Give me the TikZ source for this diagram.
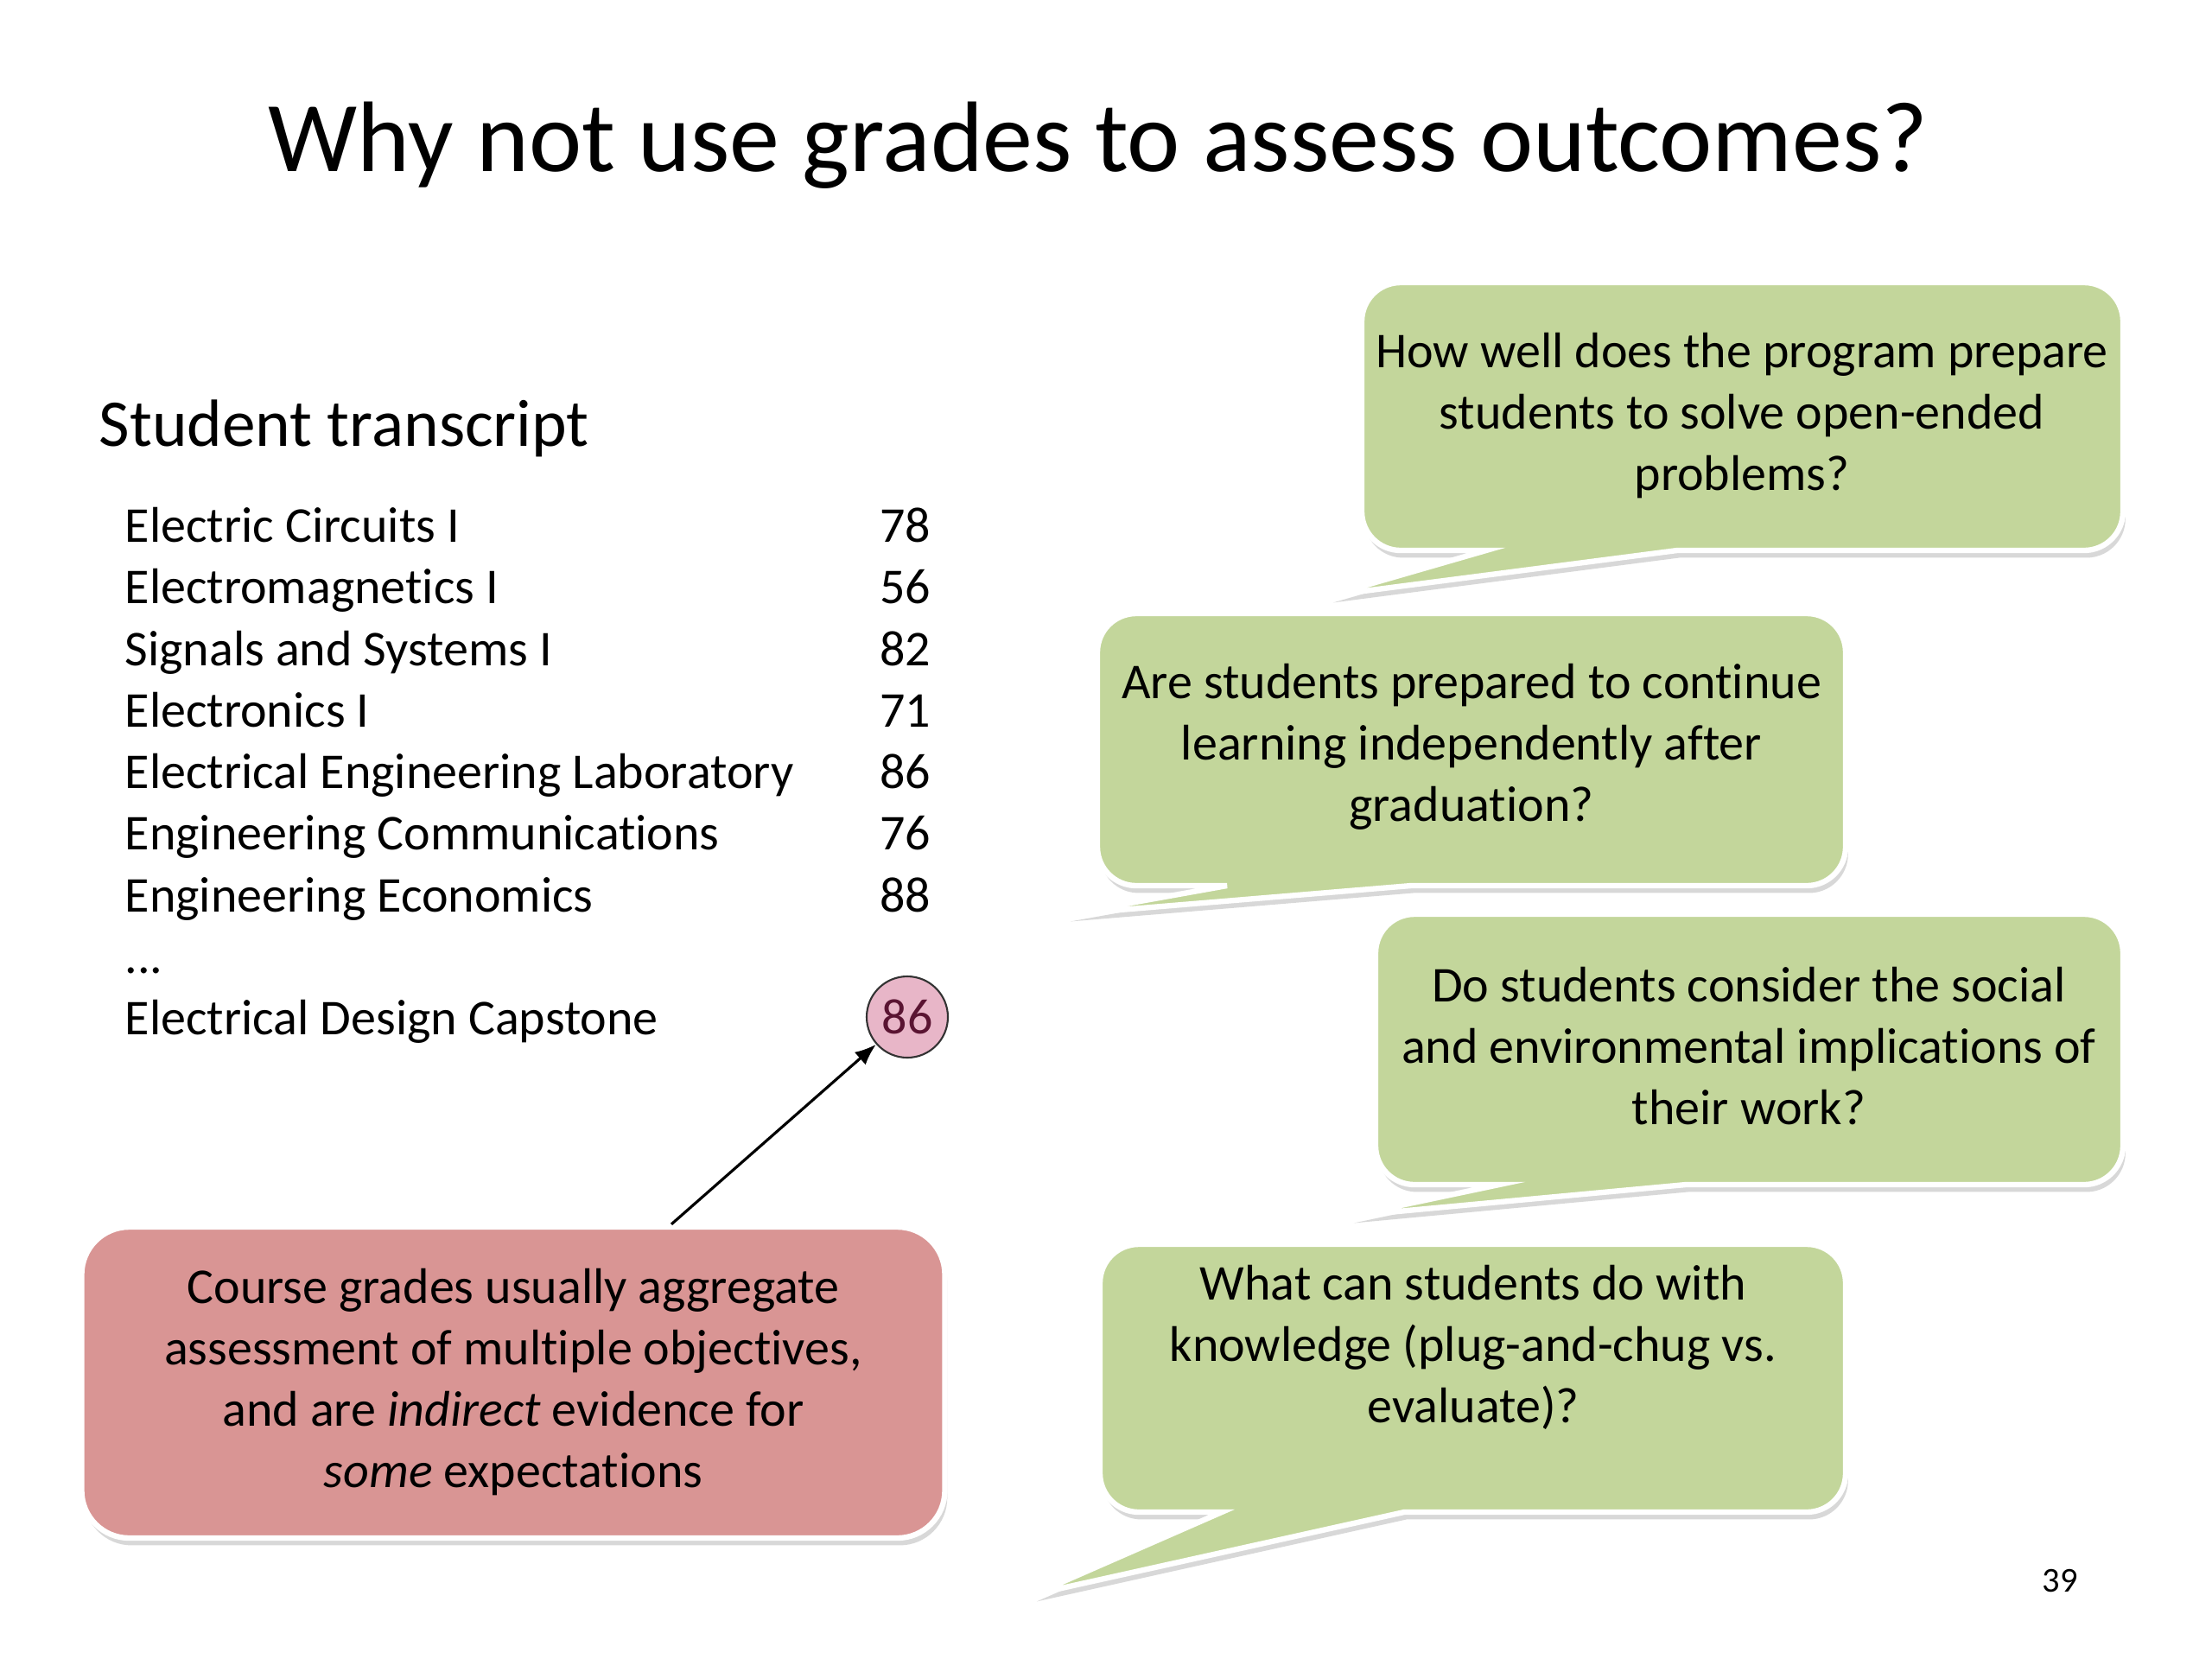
\documentclass[tikz,border=0pt]{standalone}
\usepackage{fontspec}
\setmainfont{Carlito}[Ligatures=NoCommon]
\usepackage{tikz}
\usetikzlibrary{positioning, arrows.meta, shadows}
\usepackage{xcolor}

\definecolor{bubblegreen}{RGB}{195,214,155}
\definecolor{noterose}{RGB}{217,149,148}
\definecolor{gradepink}{RGB}{232,182,200}
\definecolor{grademaroon}{RGB}{90,20,50}

\newcommand{\bodysize}{\fontsize{16.5}{20.2}\selectfont}

\tikzset{txt/.style={inner sep=0pt, font=\bodysize},
         bubble/.style={fill=bubblegreen, draw=white, line width=1.8pt,
                        drop shadow={opacity=0.3, shadow xshift=0.8pt, shadow yshift=-2.4pt}},
         question/.style={inner sep=0pt, align=center, font=\bodysize}}

\begin{document}
\begin{tikzpicture}[pointer/.style={-{Latex[length=7pt,width=5.5pt]}, line width=0.9pt}]

        \useasboundingbox (0,0) rectangle (25.6,-19.19);
        \fill[white] (0,0) rectangle (25.6,-19.19);

        % Title
        \node[inner sep=0pt, anchor=base, font=\fontsize{33}{39}\selectfont] (title) at (12.71,-1.98) {Why not use grades to assess outcomes?};

        % Transcript
        \node[inner sep=0pt, anchor=base west, font=\fontsize{22}{26}\selectfont] (head) at (1.14,-5.16) {Student transcript};

        \node[txt, anchor=base west] (c1) at (1.44,-6.27) {Electric Circuits I};
        \node[txt, anchor=base west] (c2) at (1.44,-6.98) {Electromagnetics I};
        \node[txt, anchor=base west] (c3) at (1.44,-7.70) {Signals and Systems I};
        \node[txt, anchor=base west] (c4) at (1.44,-8.41) {Electronics I};
        \node[txt, anchor=base west] (c5) at (1.44,-9.12) {Electrical Engineering Laboratory};
        \node[txt, anchor=base west] (c6) at (1.44,-9.83) {Engineering Communications};
        \node[txt, anchor=base west] (c7) at (1.44,-10.55) {Engineering Economics};
        \node[txt, anchor=base west] (dots) at (1.44,-11.26) {...};
        \node[txt, anchor=base west] (c8) at (1.44,-11.97) {Electrical Design Capstone};

        \node[txt, anchor=base east] (g1) at (10.78,-6.27) {78};
        \node[txt, anchor=base east] (g2) at (10.78,-6.98) {56};
        \node[txt, anchor=base east] (g3) at (10.78,-7.70) {82};
        \node[txt, anchor=base east] (g4) at (10.78,-8.41) {71};
        \node[txt, anchor=base east] (g5) at (10.78,-9.12) {86};
        \node[txt, anchor=base east] (g6) at (10.78,-9.83) {76};
        \node[txt, anchor=base east] (g7) at (10.78,-10.55) {88};
        \node[circle, draw=black!80, line width=0.6pt, fill=gradepink, text=grademaroon,
              minimum size=0.94cm, inner sep=0pt, font=\bodysize] (g8) at (10.50,-11.77) {86};

        % Note
        \node[rectangle, rounded corners=0.55cm, fill=noterose, draw=white, line width=1.8pt,
              drop shadow={opacity=0.3, shadow xshift=0.8pt, shadow yshift=-2.4pt},
              minimum width=9.99cm, minimum height=3.6cm, align=center, font=\bodysize] (note) at (5.94,-16.00)
              {Course grades usually aggregate\\assessment of multiple objectives,\\and are \emph{indirect} evidence for\\\emph{some} expectations};

        \draw[pointer] ([xshift=1.83cm]note.north) -- (g8);

        % Callouts
        \path[bubble] (15.40,-6.89) -- (17.20,-6.37) -- (16.51,-6.37) [rounded corners=0.45cm] -- (15.76,-6.37) -- (15.76,-3.27)
              -- (24.57,-3.27) -- (24.57,-6.37) -- (21.99,-6.37) [sharp corners] -- (19.41,-6.37) -- cycle;
        \node[question] (q1) at (20.16,-4.81) {How well does the program prepare\\students to solve open-ended\\problems?};

        \path[bubble] (12.36,-10.58) -- (14.20,-10.25) -- (13.45,-10.25) [rounded corners=0.45cm] -- (12.70,-10.25) -- (12.70,-7.10)
              -- (21.36,-7.10) -- (21.36,-10.25) -- (18.85,-10.25) [sharp corners] -- (16.33,-10.25) -- cycle;
        \node[question] (q2) at (17.03,-8.64) {Are students prepared to continue\\learning independently after\\graduation?};

        \path[bubble] (15.64,-14.07) -- (17.35,-13.71) -- (16.65,-13.71) [rounded corners=0.45cm] -- (15.92,-13.71) -- (15.92,-10.58)
              -- (24.57,-10.58) -- (24.57,-13.71) -- (22.00,-13.71) [sharp corners] -- (19.51,-13.71) -- cycle;
        \node[question] (q3) at (20.24,-12.11) {Do students consider the social\\and environmental implications of\\their work?};

        \path[bubble] (11.97,-18.45) -- (14.14,-17.50) -- (13.43,-17.50) [rounded corners=0.45cm] -- (12.73,-17.50) -- (12.73,-14.40)
              -- (21.36,-14.40) -- (21.36,-17.50) -- (18.80,-17.50) [sharp corners] -- (16.25,-17.50) -- cycle;
        \node[question] (q4) at (17.05,-15.59) {What can students do with\\knowledge (plug-and-chug vs.\\evaluate)?};

        % Page number
        \node[inner sep=0pt, font=\fontsize{11.5}{14}\selectfont] (page) at (23.84,-18.29) {39};

\end{tikzpicture}
\end{document}
